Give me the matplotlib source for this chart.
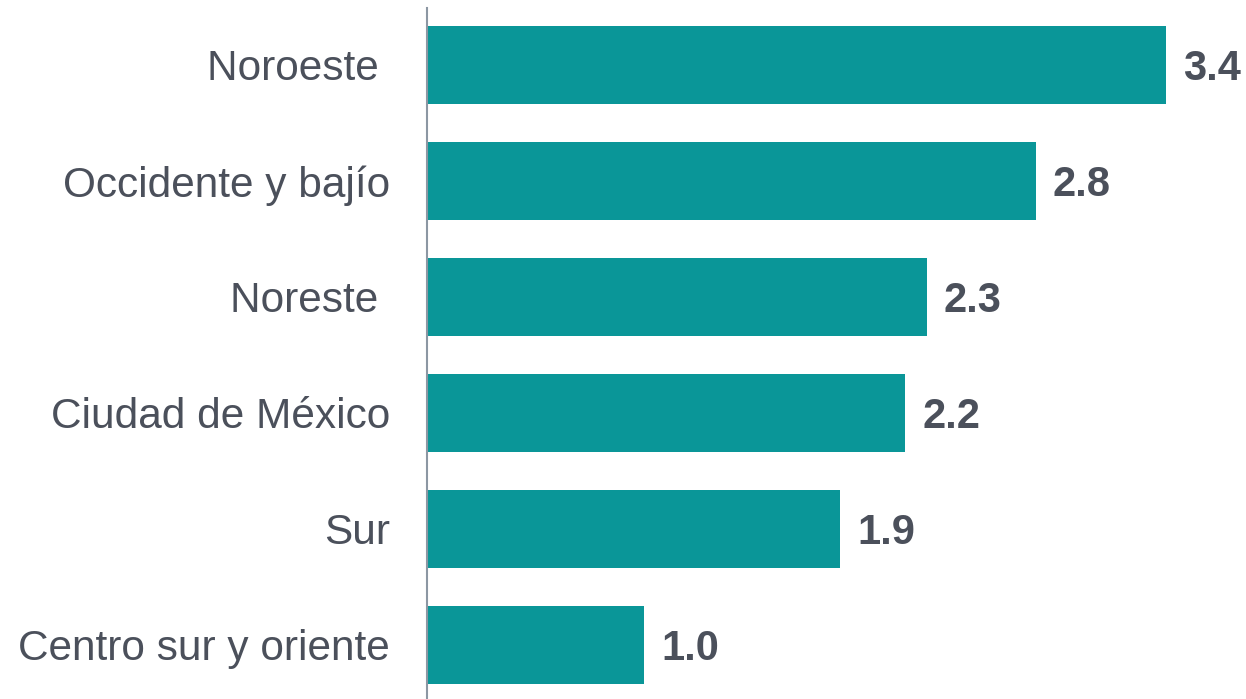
import matplotlib
matplotlib.use("Agg")
import matplotlib.pyplot as plt

categories = ["Noroeste ", "Occidente y bajío", "Noreste ", "Ciudad de México", "Sur", "Centro sur y oriente"]
values = [3.4, 2.8, 2.3, 2.2, 1.9, 1.0]

plt.rcParams['font.family'] = ['Liberation Sans', 'DejaVu Sans']

W, H = 1246, 699
fig = plt.figure(figsize=(W/100, H/100), dpi=100)
ax = fig.add_axes([427/W, 0, 1 - 427/W, 1 - 8/H])

bar_color = "#0A9698"
text_color = "#4B505B"
ypos = list(range(len(categories)))
ax.barh(ypos, values, height=0.68, color=bar_color)

ax.set_ylim(5.466, -0.491)
ax.set_xlim(0, 3.768)
ax.set_yticks(ypos)
ax.set_yticklabels(categories, fontsize=30.5, color=text_color, va="center_baseline")
ax.tick_params(axis='y', length=0, pad=26.6)
ax.set_xticks([])
for s in ["top", "right", "bottom"]:
    ax.spines[s].set_visible(False)
ax.spines["left"].set_color("#8C97A3")
ax.spines["left"].set_linewidth(1.5)

for y, v in zip(ypos, values):
    ax.annotate(f"{v:.1f}", xy=(v, y), xytext=(17, 0), textcoords="offset pixels",
                va="center_baseline", ha="left", fontsize=30, fontweight="bold", color=text_color)

fig.savefig("out.png", dpi=100)
